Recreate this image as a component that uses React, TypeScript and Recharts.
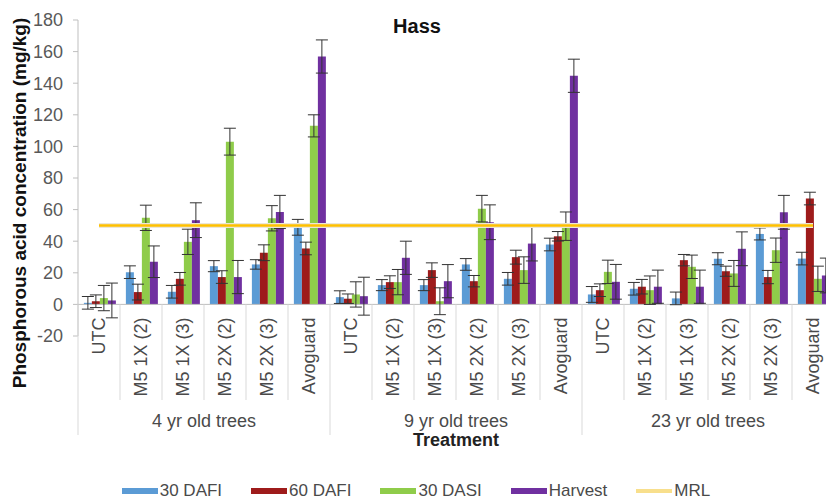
import React from "react";
import {
  ComposedChart,
  Bar,
  Line,
  XAxis,
  YAxis,
  ErrorBar,
  ReferenceLine,
  Legend,
  Customized,
} from "recharts";

// ---------- data ----------
const groups = ["4 yr old trees", "9 yr old trees", "23 yr old trees"];
const treatments = ["UTC", "M5 1X (2)", "M5 1X (3)", "M5 2X (2)", "M5 2X (3)", "Avoguard"];

const dafi30 = [1, 20.4, 8, 24.2, 25.3, 48.8, 4.6, 12.2, 12.2, 25.3, 16.2, 37.9, 6.3, 9.9, 3.8, 28.9, 44.6, 29];
const dafi60 = [2, 7.8, 16.2, 17.3, 32.7, 35.4, 3.6, 14.1, 21.7, 14.7, 29.9, 43.1, 9, 11.2, 28, 21, 17.3, 67];
const dasi30 = [4, 54.8, 39.6, 103, 54.5, 113, 6.3, 14.1, 2, 60.6, 21.7, 49.5, 20.6, 9, 23.8, 19.6, 34.3, 16.2];
const harvest = [2.5, 27, 53.3, 17.3, 58.5, 156.9, 5.2, 29.5, 14.7, 52, 38.5, 144.7, 14.3, 11.2, 11.2, 35.2, 58.3, 18.3];

const dafi30Err = [4, 4, 4, 3.5, 3, 5, 4, 3.5, 3.5, 3.7, 4, 4, 5, 4, 4, 3.8, 3.8, 4];
const dafi60Err = [4, 5, 4, 4, 5, 4, 3, 4, 4.6, 3.6, 4.4, 3, 4, 4.6, 3.6, 3.2, 4.2, 4];
const dasi30Err = [8, 8, 8, 8.5, 8, 7, 8, 8, 8.5, 8.4, 8.4, 9, 7.4, 9, 7.4, 8.2, 7.7, 8];
const harvestErr = [11, 10, 11, 10.5, 10.5, 10.5, 12, 10.5, 10.5, 11, 11, 10.5, 11, 10.5, 10.5, 10.7, 10.7, 11];

const mrlValue = 50;
const yTicks = [-20, 0, 20, 40, 60, 80, 100, 120, 140, 160, 180];

const seriesNames = ["30 DAFI", "60 DAFI", "30 DASI", "Harvest", "MRL"];
const seriesColors = ["#5B9BD5", "#9E1B1B", "#8FCC4A", "#7030A0", "#FFC000"];

const data = groups.flatMap((g, gi) =>
  treatments.map((t, ti) => {
    const i = gi * treatments.length + ti;
    return {
      treatment: t,
      group: g,
      dafi30: dafi30[i],
      dafi30Err: dafi30Err[i],
      dafi60: dafi60[i],
      dafi60Err: dafi60Err[i],
      dasi30: dasi30[i],
      dasi30Err: dasi30Err[i],
      harvest: harvest[i],
      harvestErr: harvestErr[i],
      mrl: mrlValue,
    };
  })
);

// ---------- layout ----------
const W = 834;
const H = 502;
const TOP = 20;
const X_AXIS_H = 166;
const Y_AXIS_W = 78;
const Y_MIN = -20;
const Y_MAX = 180;
const PLOT_BOTTOM = H - X_AXIS_H;
const ZERO_Y = PLOT_BOTTOM - ((0 - Y_MIN) / (Y_MAX - Y_MIN)) * (PLOT_BOTTOM - TOP);
const BAND = (W - Y_AXIS_W) / data.length;
const FONT = "'Liberation Sans', Arial, sans-serif";
const SEP = "#d9d9d9";

const CategoryTick = (props: any) => {
  const { x, index } = props;
  const name = data[index]?.treatment ?? "";
  const left = x - BAND / 2;
  const isGroupStart = index % treatments.length === 0;
  const labelY = ZERO_Y + 13;
  return (
    <g>
      <line x1={left} x2={left} y1={ZERO_Y} y2={isGroupStart ? 435 : 400} stroke={SEP} strokeWidth={1} />
      {index === data.length - 1 && (
        <line x1={left + BAND} x2={left + BAND} y1={ZERO_Y} y2={435} stroke={SEP} strokeWidth={1} />
      )}
      <text
        x={x}
        y={labelY}
        transform={`rotate(-90, ${x}, ${labelY})`}
        textAnchor="end"
        dy="0.35em"
        fontSize={18}
        fill="#4a4a4a"
        fontFamily={FONT}
      >
        {name}
      </text>
      {isGroupStart && (
        <text
          x={left + (BAND * treatments.length) / 2}
          y={427}
          textAnchor="middle"
          fontSize={18}
          fill="#4a4a4a"
          fontFamily={FONT}
        >
          {data[index].group}
        </text>
      )}
    </g>
  );
};

const Extras = () => (
  <g fontFamily={FONT}>
    <text x={417} y={33} textAnchor="middle" fontSize={20} fontWeight="bold" fill="#111">
      Hass
    </text>
    <text
      x={19}
      y={203}
      transform="rotate(-90, 19, 203)"
      textAnchor="middle"
      dy="0.35em"
      fontSize={19}
      fontWeight="bold"
      fill="#111"
    >
      Phosphorous acid concentration (mg/kg)
    </text>
    <text x={456} y={446} textAnchor="middle" fontSize={18} fontWeight="bold" fill="#222">
      Treatment
    </text>
  </g>
);

const LegendContent = () => (
  <div
    style={{
      display: "flex",
      justifyContent: "center",
      gap: 29,
      fontFamily: FONT,
      fontSize: 17,
      color: "#4a4a4a",
      alignItems: "center",
      height: 20,
      paddingLeft: 6,
    }}
  >
    {seriesNames.map((n, i) => (
      <div key={n} style={{ display: "flex", alignItems: "center" }}>
        <div
          style={{
            width: 36,
            height: i === 4 ? 4 : 6,
            background: i === 4 ? "#F8DF8C" : seriesColors[i],
            marginRight: 2,
          }}
        />
        <span>{n}</span>
      </div>
    ))}
  </div>
);

export default function App() {
  return (
    <div style={{ position: "absolute", left: 0, top: 0, width: 826, height: 502, overflow: "hidden", background: "#fff" }}>
      <ComposedChart
        width={W}
        height={H}
        data={data}
        margin={{ top: TOP, right: 0, bottom: 0, left: 0 }}
        barCategoryGap="14%"
        barGap={0}
        style={{ fontFamily: FONT }}
      >
        <XAxis
          dataKey="treatment"
          height={X_AXIS_H}
          interval={0}
          axisLine={false}
          tickLine={false}
          tick={<CategoryTick />}
          allowDuplicatedCategory={true}
        />
        <YAxis
          width={Y_AXIS_W}
          domain={[Y_MIN, Y_MAX]}
          ticks={yTicks}
          interval={0}
          tickSize={5}
          tickMargin={10}
          axisLine={{ stroke: "#bfbfbf" }}
          tickLine={{ stroke: "#bfbfbf" }}
          tick={{ fontSize: 18, fill: "#595959", fontFamily: FONT }}
        />
        <ReferenceLine y={0} stroke="#bfbfbf" strokeWidth={1} />
        <Bar dataKey="dafi30" name={seriesNames[0]} fill={seriesColors[0]} isAnimationActive={false}>
          <ErrorBar dataKey="dafi30Err" width={6} stroke="#333" strokeWidth={1} direction="y" />
        </Bar>
        <Bar dataKey="dafi60" name={seriesNames[1]} fill={seriesColors[1]} isAnimationActive={false}>
          <ErrorBar dataKey="dafi60Err" width={6} stroke="#333" strokeWidth={1} direction="y" />
        </Bar>
        <Bar dataKey="dasi30" name={seriesNames[2]} fill={seriesColors[2]} isAnimationActive={false}>
          <ErrorBar dataKey="dasi30Err" width={6} stroke="#333" strokeWidth={1} direction="y" />
        </Bar>
        <Bar dataKey="harvest" name={seriesNames[3]} fill={seriesColors[3]} isAnimationActive={false}>
          <ErrorBar dataKey="harvestErr" width={6} stroke="#333" strokeWidth={1} direction="y" />
        </Bar>
        <Line
          dataKey="mrl"
          stroke="#ebe6d8"
          strokeWidth={5}
          dot={false}
          legendType="none"
          isAnimationActive={false}
        />
        <Line
          dataKey="mrl"
          name={seriesNames[4]}
          stroke={seriesColors[4]}
          strokeWidth={2.5}
          dot={false}
          isAnimationActive={false}
        />
        <Legend
          layout="horizontal"
          verticalAlign="middle"
          align="center"
          content={<LegendContent />}
          wrapperStyle={{ top: 481, left: 0, width: 826, height: 20 }}
        />
        <Customized component={<Extras />} />
      </ComposedChart>
    </div>
  );
}
